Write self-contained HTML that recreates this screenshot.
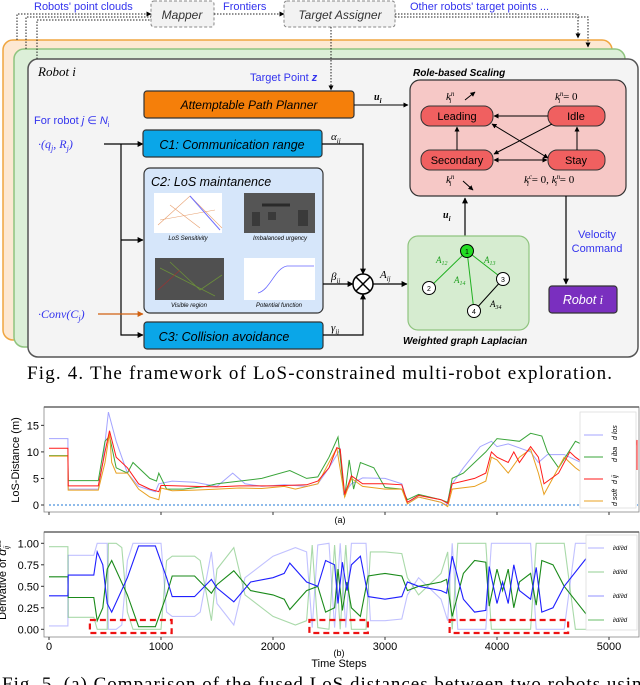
<!DOCTYPE html>
<html><head><meta charset="utf-8">
<style>
html,body{margin:0;padding:0;background:#fff;}
body{width:640px;height:685px;overflow:hidden;position:relative;font-family:"Liberation Sans",sans-serif;}
svg{position:absolute;left:0;top:0;}
.bx{font-family:"Liberation Sans",sans-serif;font-style:italic;}
.cap{font-family:"Liberation Serif",serif;font-size:19px;}
</style></head>
<body>
<svg id="fig" width="640" height="685" viewBox="0 0 640 685" xmlns="http://www.w3.org/2000/svg">
<defs>
<marker id="ar" viewBox="0 0 10 10" refX="9" refY="5" markerWidth="5" markerHeight="5" orient="auto-start-reverse"><path d="M0,0L10,5L0,10z" fill="#000"/></marker>
<marker id="aro" viewBox="0 0 10 10" refX="9" refY="5" markerWidth="5" markerHeight="5" orient="auto"><path d="M0,0L10,5L0,10z" fill="#d06010"/></marker>
</defs>
<g>
<rect x="3" y="40" width="609" height="300" rx="10" fill="#fde8d2" stroke="#f0a640" stroke-width="1.5"/>
<rect x="14" y="49" width="611" height="298" rx="10" fill="#dcefd8" stroke="#8fc47f" stroke-width="1.5"/>
<rect x="28" y="59" width="610" height="298" rx="10" fill="#f4f4f4" stroke="#555" stroke-width="1.5"/>

<text x="34" y="10" font-size="11" fill="#3333ee">Robots' point clouds</text>
<text x="223" y="10" font-size="11" fill="#3333ee">Frontiers</text>
<text x="410" y="10" font-size="11" fill="#3333ee">Other robots' target points ...</text>
<rect x="151" y="1" width="63" height="26" rx="3" fill="#f2f2f2" stroke="#888" stroke-dasharray="3,2"/>
<text x="182" y="19" font-size="12" text-anchor="middle" class="bx" fill="#333">Mapper</text>
<rect x="284" y="1" width="111" height="26" rx="3" fill="#f2f2f2" stroke="#888" stroke-dasharray="3,2"/>
<text x="340" y="19" font-size="12" text-anchor="middle" class="bx" fill="#333">Target Assigner</text>
<g stroke="#222" stroke-width="1" stroke-dasharray="1.5,1.5" fill="none">
<path d="M17,40V14H151" marker-end="url(#ar)"/>
<path d="M26,49V17H151"/>
<path d="M37,59V20H151"/>
<path d="M214,14H284" marker-end="url(#ar)"/>
<path d="M395,14H578V38" marker-end="url(#ar)"/>
<path d="M395,17H588V47" marker-end="url(#ar)"/>
<path d="M331,27V90" marker-end="url(#ar)"/>
</g>
<text x="38" y="76" font-size="13" font-family="Liberation Serif,serif" font-style="italic">Robot i</text>
<text x="250" y="81" font-size="11" fill="#3333ee">Target Point <tspan font-weight="bold" font-style="italic">z</tspan></text>
<rect x="144" y="91" width="210" height="27" rx="3" fill="#f57f0a" stroke="#333" stroke-width="1.2"/>
<text x="249" y="109" font-size="12" text-anchor="middle" class="bx">Attemptable Path Planner</text>
<path d="M354,105H408" stroke="#000" fill="none" marker-end="url(#ar)"/>
<text x="374" y="100" font-size="10" font-family="Liberation Serif,serif" font-weight="bold" font-style="italic">u<tspan font-size="7" dy="3">i</tspan></text>

<text x="34" y="124" font-size="11" fill="#3333ee">For robot <tspan font-style="italic">j</tspan> ∈ <tspan font-style="italic">N</tspan><tspan font-size="7" dy="3">i</tspan></text>
<text x="38" y="148" font-size="12" fill="#3333ee" font-family="Liberation Serif,serif" font-style="italic">·(q<tspan font-size="8" dy="3">j</tspan><tspan dy="-3">, R</tspan><tspan font-size="8" dy="3">j</tspan><tspan dy="-3">)</tspan></text>
<text x="38" y="318" font-size="12" fill="#3333ee" font-family="Liberation Serif,serif" font-style="italic">·Conv(C<tspan font-size="8" dy="3">j</tspan><tspan dy="-3">)</tspan></text>
<g stroke="#000" stroke-width="1.2" fill="none">
<path d="M104,144H143" marker-end="url(#ar)"/>
<path d="M121,144V335H143" marker-end="url(#ar)"/>
<path d="M121,240H143" marker-end="url(#ar)"/>
</g>
<path d="M98,314H143" stroke="#d06010" stroke-width="1.2" fill="none" marker-end="url(#aro)"/>
<rect x="143" y="130" width="179" height="27" rx="3" fill="#0aa6e8" stroke="#333" stroke-width="1.2"/>
<text x="232" y="149" font-size="12.5" text-anchor="middle" class="bx">C1: Communication range</text>
<rect x="144" y="168" width="179" height="145" rx="6" fill="#d6e6fa" stroke="#333" stroke-width="1.2"/>
<text x="151" y="186" font-size="12.5" class="bx">C2: LoS maintanence</text>
<g><rect x="154" y="193" width="68" height="40" fill="#fff"/><path d="M158,225L190,196L222,228M160,220L215,210M170,205L200,228" stroke="#e8a070" stroke-width="0.6" fill="none"/><path d="M190,196L220,230" stroke="#7070ff" stroke-width="1" fill="none"/></g>
<text x="188" y="240" font-size="6" text-anchor="middle" font-style="italic">LoS Sensitivity</text>
<g><rect x="244" y="193" width="71" height="40" fill="#555"/><rect x="252" y="212" width="8" height="14" fill="#3a3a3a"/><rect x="268" y="212" width="8" height="8" fill="#3a3a3a"/><rect x="298" y="210" width="10" height="16" fill="#3a3a3a"/><path d="M262,205H290" stroke="#2a2a2a" stroke-width="3"/></g>
<text x="280" y="240" font-size="6" text-anchor="middle" font-style="italic">Imbalanced urgency</text>
<g><rect x="155" y="258" width="69" height="42" fill="#505050"/><path d="M160,268L215,296M170,262L200,290L222,275" stroke="#6b8f3a" stroke-width="0.8" fill="none"/><path d="M158,290L180,270" stroke="#a03030" stroke-width="0.6"/></g>
<text x="189" y="307" font-size="6" text-anchor="middle" font-style="italic">Visible region</text>
<g><rect x="244" y="258" width="71" height="42" fill="#fff"/><path d="M258,293C270,290 275,268 287,266H314" stroke="#6666ff" stroke-width="0.8" fill="none"/></g>
<text x="279" y="307" font-size="6" text-anchor="middle" font-style="italic">Potential function</text>
<rect x="144" y="322" width="179" height="27" rx="3" fill="#0aa6e8" stroke="#333" stroke-width="1.2"/>
<text x="224" y="341" font-size="12.5" text-anchor="middle" class="bx">C3: Collision avoidance</text>
<g stroke="#000" stroke-width="1.2" fill="none">
<path d="M322,144H363V274" marker-end="url(#ar)"/>
<path d="M323,284H353" marker-end="url(#ar)"/>
<path d="M323,335H363V294" marker-end="url(#ar)"/>
<path d="M373,284H407" marker-end="url(#ar)"/>
</g>
<g><circle cx="363" cy="284" r="10" fill="#fff" stroke="#000" stroke-width="1.5"/><path d="M356,277L370,291M370,277L356,291" stroke="#000" stroke-width="1.5"/></g>
<g font-family="Liberation Serif,serif" font-style="italic" font-size="11">
<text x="331" y="140">α<tspan font-size="7" dy="3">ij</tspan></text>
<text x="331" y="280">β<tspan font-size="7" dy="3">ij</tspan></text>
<text x="331" y="331">γ<tspan font-size="7" dy="3">ij</tspan></text>
<text x="380" y="278">A<tspan font-size="7" dy="3">ij</tspan></text>
</g>
<text x="413" y="76" font-size="10" font-weight="bold" class="bx">Role-based Scaling</text>
<rect x="410" y="80" width="216" height="116" rx="10" fill="#f6c8c6" stroke="#333" stroke-width="1.2"/>
<g font-size="11" text-anchor="middle">
<rect x="421" y="106" width="72" height="20" rx="9" fill="#f06060" stroke="#333"/><text x="457" y="120">Leading</text>
<rect x="548" y="106" width="57" height="20" rx="9" fill="#f06060" stroke="#333"/><text x="576" y="120">Idle</text>
<rect x="421" y="150" width="72" height="20" rx="9" fill="#f06060" stroke="#333"/><text x="457" y="164">Secondary</text>
<rect x="548" y="150" width="57" height="20" rx="9" fill="#f06060" stroke="#333"/><text x="576" y="164">Stay</text>
</g>
<g stroke="#000" stroke-width="1" fill="none">
<path d="M548,116H494" marker-end="url(#ar)"/>
<path d="M494,160H547" marker-end="url(#ar)" marker-start="url(#ar)"/>
<path d="M457,150V127" marker-end="url(#ar)"/>
<path d="M577,150V127" marker-end="url(#ar)"/>
<path d="M492,124L548,158" marker-end="url(#ar)" marker-start="url(#ar)"/>
<path d="M552,124L494,154" marker-end="url(#ar)"/>
<path d="M465,100L475,92" marker-end="url(#ar)"/>
<path d="M463,181L473,190" marker-end="url(#ar)"/>
</g>
<g font-family="Liberation Serif,serif" font-style="italic" font-size="11">
<text x="446" y="100">k<tspan font-size="7" dy="-4">n</tspan><tspan font-size="7" dy="7" dx="-5">i</tspan></text>
<text x="555" y="100">k<tspan font-size="7" dy="-4">n</tspan><tspan font-size="7" dy="7" dx="-5">i</tspan><tspan dy="-3" font-style="normal"> = 0</tspan></text>
<text x="446" y="183">k<tspan font-size="7" dy="-4">n</tspan><tspan font-size="7" dy="7" dx="-5">i</tspan></text>
<text x="524" y="183">k<tspan font-size="7" dy="-4">c</tspan><tspan font-size="7" dy="7" dx="-5">i</tspan><tspan dy="-3" font-style="normal"> = 0, </tspan>k<tspan font-size="7" dy="-4">n</tspan><tspan font-size="7" dy="7" dx="-5">i</tspan><tspan dy="-3" font-style="normal"> = 0</tspan></text>
</g>
<path d="M465,236V198" stroke="#000" stroke-width="1.2" fill="none" marker-end="url(#ar)"/>
<text x="443" y="218" font-size="10" font-family="Liberation Serif,serif" font-weight="bold" font-style="italic">u<tspan font-size="7" dy="3">i</tspan></text>
<rect x="408" y="236" width="121" height="94" rx="10" fill="#d6ecd0" stroke="#8fc47f" stroke-width="1.2"/>
<g stroke-width="1">
<path d="M467,251L429,288M467,251L503,279M467,251L474,311" stroke="#20b020"/>
<path d="M503,279L474,311" stroke="#000"/>
</g>
<g font-size="7" text-anchor="middle">
<circle cx="467" cy="251" r="6.5" fill="#22dd22" stroke="#000"/><text x="467" y="254">1</text>
<circle cx="429" cy="288" r="6.5" fill="#fff" stroke="#000"/><text x="429" y="291">2</text>
<circle cx="503" cy="279" r="6.5" fill="#fff" stroke="#000"/><text x="503" y="282">3</text>
<circle cx="474" cy="311" r="6.5" fill="#fff" stroke="#000"/><text x="474" y="314">4</text>
</g>
<g font-family="Liberation Serif,serif" font-style="italic" font-size="9" fill="#20a020">
<text x="436" y="263">A<tspan font-size="6" dy="2">12</tspan></text>
<text x="484" y="263">A<tspan font-size="6" dy="2">13</tspan></text>
<text x="454" y="283">A<tspan font-size="6" dy="2">14</tspan></text>
<text x="490" y="307" fill="#000">A<tspan font-size="6" dy="2">34</tspan></text>
</g>
<text x="403" y="344" font-size="10" font-weight="bold" class="bx">Weighted graph Laplacian</text>
<path d="M566,196V284" stroke="#000" stroke-width="1.2" fill="none" marker-end="url(#ar)"/>
<text x="597" y="238" font-size="11" fill="#3333ee" text-anchor="middle">Velocity</text>
<text x="597" y="252" font-size="11" fill="#3333ee" text-anchor="middle">Command</text>
<rect x="549" y="286" width="68" height="27" rx="3" fill="#7a2fbf" stroke="#333" stroke-width="1.2"/>
<text x="583" y="304" font-size="12.5" text-anchor="middle" fill="#fff" class="bx">Robot <tspan font-family="Liberation Serif,serif">i</tspan></text>
<text x="27" y="379" class="cap" textLength="585" lengthAdjust="spacing">Fig. 4.    The framework of LoS-constrained multi-robot exploration.</text>
</g>

<g id="chartA"></g>
<g id="chartB"></g>
<text x="2" y="690" class="cap" textLength="650" lengthAdjust="spacing">Fig. 5.   (a) Comparison of the fused LoS distances between two robots using</text>
</svg>
<script>
// ---- Chart (a) data ----
const xTicks = [0, 1000, 2000, 3000, 4000, 5000];
const aTicks = [0, 5, 10, 15];
const bTicks = [0.00, 0.25, 0.50, 0.75, 1.00];
const bTickLabels = ["0.00", "0.25", "0.50", "0.75", "1.00"];
const blueT = [0,169,171,440,480,530,600,700,800,950,980,1100,1300,1500,1640,1750,1900,2100,2300,2400,2500,2600,2630,2700,2800,3000,3150,3200,3300,3500,3550,3600,3700,3850,3950,4000,4100,4300,4370,4450,4600,4750];
const blueV = [12.5,12.5,3.0,3.0,8,17.5,12,6,3.5,2.5,4,4.5,4.3,3.5,6,4,3.5,3.8,3.5,4,7,10.5,2,4,5.1,5,4,0.5,1.5,0.5,0,4,7,11,12,11,11.5,10,8,9.5,9.5,8];
const greenT = [0,169,171,440,500,540,600,700,750,900,960,980,1050,1200,1400,1500,1700,1900,2150,2300,2400,2500,2580,2640,2680,2720,2780,2900,3000,3150,3200,3300,3500,3560,3600,3700,3900,4000,4200,4300,4400,4450,4550,4700,4800];
const greenV = [9.3,9.3,4.6,4.6,12,13,7,6,8,5,4.5,6,3,3,3.5,4,4.5,5,6.5,5,5.3,9,12.8,1.5,8.5,3,8,7,3.3,3,1,2,1,0.5,5,6,10,12.5,12,13.5,13,10,7,12,11];
const redT = [0,169,171,440,500,540,600,700,800,900,980,1000,1300,1500,1700,2000,2300,2400,2500,2570,2600,2640,2700,2800,3000,3150,3200,3300,3500,3560,3600,3800,3900,3950,4000,4100,4150,4200,4300,4370,4420,4550,4650,4700,4800];
const redV = [10.7,10.7,3.6,3.6,10,14,9,7,4,3,2.5,3.7,3.5,3.4,3.6,3.6,3.8,4.5,7,10.8,10.5,2,5.5,4,4,3.8,0.5,1.8,1,0.3,4,5,6,10,9,8,10,8,11,9,4,6,10,9,7.5];
const orangeT = [0,169,171,440,500,540,560,600,700,800,900,980,1000,1100,1300,1500,1700,1900,2100,2200,2400,2500,2570,2640,2700,2800,3000,3150,3200,3300,3500,3560,3600,3800,3900,3950,4000,4100,4200,4300,4370,4420,4600,4700,4800];
const orangeV = [9.2,9.2,2.8,2.8,8,13.5,8,6,6,3,1.5,1,3.2,2.7,2.8,3,3.2,3.1,3.5,3,4,8,10.7,1.5,5,3.5,3,3,0.2,1.5,0.5,-0.3,3,3.5,4.5,9,8.5,6,9,10.5,6,2,9,7,5.5];
// ---- Chart (b) data ----
const dBlueT = [0,169,171,400,430,480,520,560,700,800,950,1050,1100,1300,1450,1500,1650,1800,2000,2100,2150,2300,2400,2470,2550,2580,2620,2660,2700,2780,2850,3000,3150,3200,3300,3500,3550,3600,3700,3800,3900,3930,4000,4050,4100,4150,4200,4300,4350,4400,4500,4600,4800];
const dBlueV = [0.39,0.39,0.63,0.63,0.9,0.75,0.3,0.2,0.6,0.97,0.97,0.6,0.38,0.38,0.58,0.48,0.32,0.55,0.6,0.65,0.77,0.55,0.5,0.8,0.75,0.3,0.78,0.45,0.75,0.85,0.38,0.35,0.38,0.55,0.5,0.45,0.42,0.85,0.35,0.2,0.22,0.73,0.3,0.55,0.3,0.75,0.45,0.35,0.72,0.2,0.25,0.5,0.83];
const dGreenV = [0.61,0.61,0.37,0.37,0.1,0.25,0.7,0.8,0.4,0.03,0.03,0.4,0.62,0.62,0.42,0.52,0.68,0.45,0.4,0.35,0.23,0.45,0.5,0.2,0.25,0.7,0.22,0.55,0.25,0.15,0.62,0.65,0.62,0.45,0.5,0.55,0.58,0.15,0.65,0.8,0.78,0.27,0.7,0.45,0.7,0.25,0.55,0.65,0.28,0.8,0.75,0.5,0.17];
const lBlueT = [0,169,171,400,430,520,530,600,650,700,750,1000,1050,1100,1300,1350,1450,1500,1650,1750,2000,2200,2300,2350,2400,2500,2550,2600,2650,2700,2830,2870,3000,3150,3200,3300,3500,3560,3600,3650,3900,3950,4300,4350,4600,4650,4700,4800];
const lBlueV = [0.04,0.04,0.86,0.86,1.0,1.0,0.0,0.0,0.05,0.8,1.0,1.0,0.2,0.15,0.15,0.2,0.9,0.3,0.05,0.6,0.85,0.95,0.9,0.02,0.98,1.0,0.02,1.0,0.02,1.0,1.0,0.1,0.1,0.12,0.4,0.6,0.35,0.1,1.0,0.0,0.0,1.0,1.0,0.0,0.0,0.5,1.0,1.0];
const lGreenV = [0.96,0.96,0.14,0.14,0.0,0.0,1.0,1.0,0.95,0.2,0.0,0.0,0.8,0.85,0.85,0.8,0.1,0.7,0.95,0.4,0.15,0.05,0.1,0.98,0.02,0.0,0.98,0.0,0.98,0.0,0.0,0.9,0.9,0.88,0.6,0.4,0.65,0.9,0.0,1.0,1.0,0.0,0.0,1.0,1.0,0.5,0.0,0.0];
const boxStart = [365, 2325, 3577];
const boxEnd = [1095, 2847, 4635];

const NS = "http://www.w3.org/2000/svg";
function mk(parent, tag, attrs, text) {
  const e = document.createElementNS(NS, tag);
  for (const k in attrs) e.setAttribute(k, attrs[k]);
  if (text !== undefined) e.textContent = text;
  parent.appendChild(e);
  return e;
}
const xS = t => 49 + t * 0.112;
const yA = v => 505 - v * 5.31;
const yB = v => 629.3 - v * 86;
function pathD(ts, vs, ys) { return ts.map((t, i) => (i ? "L" : "M") + xS(t).toFixed(1) + "," + ys(vs[i]).toFixed(1)).join(""); }

const A = document.getElementById("chartA");
let fr = mk(A, "rect", {x: 44, y: 407, width: 595, height: 105, fill: "#fff", stroke: "#888", "stroke-width": 0.8});


mk(A, "line", {x1: 44, y1: 407, x2: 639, y2: 407, stroke: "#666", "stroke-width": 1.5});
aTicks.forEach(v => {
  mk(A, "line", {x1: 41, y1: yA(v), x2: 44, y2: yA(v), stroke: "#333"});
  const t = mk(A, "text", {x: 39, y: yA(v) + 4, "font-size": 11, "text-anchor": "end"}, String(v));
  
  
});
xTicks.forEach(v => mk(A, "line", {x1: xS(v), y1: 512, x2: xS(v), y2: 515, stroke: "#333"}));
let yl = mk(A, "text", {x: 19, y: 460, "font-size": 11, "text-anchor": "middle", transform: "rotate(-90 19 460)"}, "LoS-Distance (m)");


let ref0 = mk(A, "line", {x1: 49, y1: yA(0), x2: 638, y2: yA(0), stroke: "#1f77d4", "stroke-dasharray": "2,2", "stroke-width": 1});


[[blueT, blueV, "rgba(90,90,255,0.55)", "series-d-los-blue"], [greenT, greenV, "#3aa53a", "series-d-green"], [orangeT, orangeV, "#e8a020", "series-d-orange"], [redT, redV, "#ff1a1a", "series-d-red"]].forEach(s => {
  const p = mk(A, "path", {d: pathD(s[0], s[1], yA), fill: "none", stroke: s[2], "stroke-width": 1});
  
  
});
mk(A, "path", {d: "M629,422L632,450L634,440", fill: "none", stroke: "rgba(90,90,255,0.55)"});
mk(A, "path", {d: "M635,448L637,440V470", fill: "none", stroke: "#ff1a1a"});
let la = mk(A, "rect", {x: 580, y: 412, width: 56, height: 96, fill: "#fff", stroke: "#ddd", "stroke-width": 0.8});


["rgba(90,90,255,0.55)", "#3aa53a", "#ff1a1a", "#e8a020"].forEach((c, i) => {
  const y = 435 + i * 22;
  const l = mk(A, "line", {x1: 584, y1: y, x2: 603, y2: y, stroke: c, "stroke-width": 1});
  
  
  mk(A, "text", {x: 617, y: y + 5, "font-size": 7, transform: "rotate(-90 617 " + (y + 5) + ")", "font-style": "italic"}, ["d los", "d iba", "d ij", "d soft"][i]);
});
mk(A, "text", {x: 340, y: 523, "font-size": 9, "text-anchor": "middle"}, "(a)");

const B = document.getElementById("chartB");
let frb = mk(B, "rect", {x: 44, y: 532, width: 595, height: 105, fill: "#fff", stroke: "#888", "stroke-width": 0.8});


mk(B, "line", {x1: 44, y1: 532, x2: 639, y2: 532, stroke: "#666", "stroke-width": 1.5});
bTicks.forEach((v, i) => {
  mk(B, "line", {x1: 41, y1: yB(v), x2: 44, y2: yB(v), stroke: "#333"});
  const t = mk(B, "text", {x: 39, y: yB(v) + 4, "font-size": 11, "text-anchor": "end"}, bTickLabels[i]);
  
  
});
xTicks.forEach(v => {
  mk(B, "line", {x1: xS(v), y1: 637, x2: xS(v), y2: 640, stroke: "#333"});
  const t = mk(B, "text", {x: xS(v), y: 650, "font-size": 11, "text-anchor": "middle"}, String(v));
  
  
});
let ylb = mk(B, "text", {x: 6, y: 580, "font-size": 11, "text-anchor": "middle", transform: "rotate(-90 6 580)"}, "Derivative of ");


const ts1 = mk(ylb, "tspan", {"font-style": "italic", "font-size": 12}, "d");
const ts2 = mk(ylb, "tspan", {"font-size": 7, dy: "-5", "font-style": "italic"}, "los");
const ts3 = mk(ylb, "tspan", {"font-size": 7, dx: "-9", dy: "8", "font-style": "italic"}, "ij");
[[lBlueT, lBlueV, "rgba(100,100,255,0.4)", "series-light-blue"], [lBlueT, lGreenV, "rgba(40,160,40,0.4)", "series-light-green"], [dBlueT, dGreenV, "#1a8a1a", "series-dark-green"], [dBlueT, dBlueV, "#1f1fff", "series-dark-blue"]].forEach(s => {
  const p = mk(B, "path", {d: pathD(s[0], s[1], yB), fill: "none", stroke: s[2], "stroke-width": 1.1});
  
  
});
boxStart.forEach((s, i) => {
  const r = mk(B, "rect", {x: xS(s), y: 620, width: xS(boxEnd[i]) - xS(s), height: 13, fill: "none", stroke: "#ee1111", "stroke-width": 2.2, "stroke-dasharray": "6,4"});
  
  
});
let lb = mk(B, "rect", {x: 586, y: 535, width: 51, height: 95, fill: "#fff", stroke: "#ddd", "stroke-width": 0.8});


["rgba(100,100,255,0.5)", "rgba(40,160,40,0.5)", "rgba(100,100,255,0.7)", "rgba(40,160,40,0.7)"].forEach((c, i) => {
  const y = 548 + i * 24;
  const l = mk(B, "line", {x1: 588, y1: y, x2: 604, y2: y, stroke: c, "stroke-width": 1});
  
  
  mk(B, "text", {x: 620, y: y + 2, "font-size": 6, "text-anchor": "middle", "font-style": "italic"}, "∂d/∂d");
});
mk(B, "text", {x: 339, y: 656, "font-size": 9, "text-anchor": "middle"}, "(b)");
let xt = mk(B, "text", {x: 339, y: 667, "font-size": 11, "text-anchor": "middle"}, "Time Steps");


</script>
</body></html>
